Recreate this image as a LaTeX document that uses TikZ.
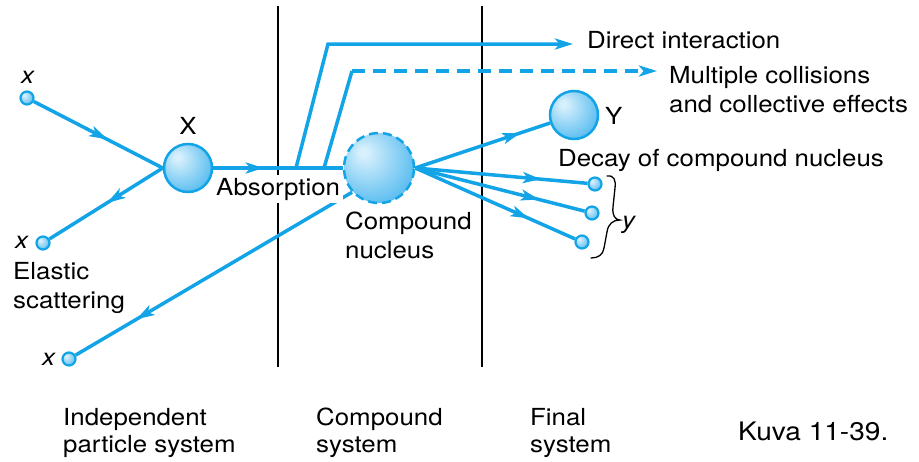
\documentclass[tikz,border=0pt]{standalone}
\usepackage{fontspec}
\setmainfont{TeX Gyre Heros}[FakeStretch=1.1]
\usetikzlibrary{arrows.meta,decorations.markings}
\definecolor{lb}{RGB}{18,164,230}
\definecolor{sphA}{RGB}{215,240,252}
\definecolor{sphB}{RGB}{98,192,241}
\definecolor{sphC}{RGB}{56,170,234}
\pgfdeclareradialshading{sph}{\pgfpoint{-12bp}{12bp}}{color(0bp)=(sphA); color(3bp)=(sphA); color(30bp)=(sphB); color(56bp)=(sphC)}
\pgfdeclarelayer{bg}
\pgfsetlayers{bg,main}
\begin{document}
\begin{tikzpicture}[x=1pt,y=-1pt,
  lbl/.style={font=\fontsize{23.5}{28}\selectfont, inner sep=0pt, anchor=base west},
  flow/.style={lb, line width=3.5pt},
  midarrow/.style={postaction={decorate}, decoration={markings, mark=at position #1 with {\arrow{Stealth[length=18pt,width=11pt,inset=4.5pt]}}}},
  endarrow/.style={-{Stealth[length=18pt,width=11pt,inset=4.5pt]}},
  sphere/.style={circle, draw=lb, line width=2.5pt, shade, shading=sph, minimum size=#1, inner sep=0pt},
  particle/.style={circle, draw=lb, line width=2.2pt, shade, shading=sph, minimum size=13pt, inner sep=0pt},
  divider/.style={black, line width=1.3pt}]
\useasboundingbox (0,0) rectangle (919,461);

% particles and nuclei
\node[particle] (x1) at (27,98) {};
\node[particle] (x2) at (43,243) {};
\node[particle] (x3) at (69,359) {};
\node[sphere=48pt] (X) at (188,168) {};
\node[sphere=70pt, dash pattern=on 9pt off 5pt] (cn) at (379,168) {};
\node[sphere=48pt] (Y) at (574,115) {};
\node[particle] (y1) at (595,184) {};
\node[particle] (y2) at (592,213) {};
\node[particle] (y3) at (582,242) {};

% coordinates for the branches
\coordinate (d0) at (296,168);
\coordinate (d1) at (328,44);
\coordinate (d2) at (573,44);
\coordinate (m0) at (324,168);
\coordinate (m1) at (352,71);
\coordinate (m2) at (657,71);
\coordinate (v1t) at (278,6);
\coordinate (v1b) at (278,367);
\coordinate (v2t) at (482,6);
\coordinate (v2b) at (482,367);

\begin{pgfonlayer}{bg}
  \draw[divider] (v1t) -- (v1b);
  \draw[divider] (v2t) -- (v2b);
  \draw[flow, midarrow=0.57] (x1) -- (X.west);
  \draw[flow, midarrow=0.49] (X.west) -- (x2);
  \draw[flow, midarrow=0.39] (X.east) -- (cn.west);
  \draw[flow, midarrow=0.78] (cn.222) -- (x3);
  \draw[flow, midarrow=0.78] (cn.east) -- (Y);
  \draw[flow, midarrow=0.73] (cn.east) -- (y1);
  \draw[flow, midarrow=0.73] (cn.east) -- (y2);
  \draw[flow, midarrow=0.71] (cn.east) -- (y3);
  \draw[flow, endarrow, line join=miter] (d0) -- (d1) -- (d2);
  \draw[flow, line join=miter] (m0) -- (m1);
  \draw[flow, endarrow, dash pattern=on 13pt off 8pt] (m1) -- (m2);
\end{pgfonlayer}

% brace
\draw[line width=1.3pt, line cap=round] (607,176) .. controls (614,175) and (616,180) .. (615,188) -- (613,207) .. controls (612,215) and (615,220) .. (620,220) .. controls (613,220) and (608,224) .. (607,232) -- (604,248) .. controls (603,255) and (598,258) .. (591,258);

% labels
\node[lbl, anchor=base] (lx1) at (27.5,83) {\itshape x};
\node[lbl, anchor=base] (lX) at (188,134) {X};
\node[lbl] (lx2) at (15,248) {\itshape x};
\node[lbl] (lx3) at (42,365) {\itshape x};
\node[lbl] (el1) at (13,279) {Elastic};
\node[lbl] (el2) at (13,308) {scattering};
\node[lbl, fill=white, inner sep=3pt] (abs) at (213,195) {Absorption};
\node[lbl] (cn1) at (345,229) {Compound};
\node[lbl] (cn2) at (345,258) {nucleus};
\node[lbl] (di) at (587,48) {Direct interaction};
\node[lbl] (mc1) at (669,83) {Multiple collisions};
\node[lbl] (mc2) at (669,112) {and collective effects};
\node[lbl] (lY) at (605,124) {Y};
\node[lbl] (dec) at (558,166) {Decay of compound nucleus};
\node[lbl] (ly) at (622,228) {\itshape y};
\node[lbl] (b1a) at (63,425) {Independent};
\node[lbl] (b1b) at (63,452) {particle system};
\node[lbl] (b2a) at (316,425) {Compound};
\node[lbl] (b2b) at (316,452) {system};
\node[lbl] (b3a) at (530,425) {Final};
\node[lbl] (b3b) at (530,452) {system};
\node[lbl, font=\fontsize{25.5}{30}\selectfont] (kuva) at (738,440) {Kuva 11-39.};
\end{tikzpicture}
\end{document}
